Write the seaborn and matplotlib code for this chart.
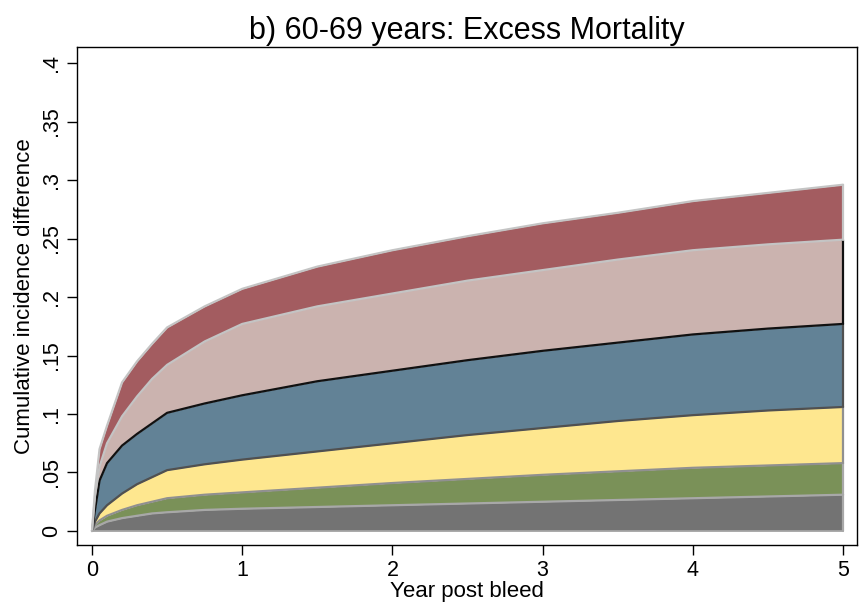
import numpy as np
import matplotlib
matplotlib.use("Agg")
import matplotlib.pyplot as plt
import seaborn as sns

# cumulative boundaries (top of each stacked band)
years = [0, 0.02, 0.05, 0.1, 0.2, 0.3, 0.4, 0.5, 0.75, 1, 1.5, 2, 2.5, 3, 3.5, 4, 4.5, 5]
top_gray = [0, 0.003, 0.005, 0.008, 0.011, 0.013, 0.015, 0.016, 0.018, 0.019, 0.0205, 0.022, 0.0235, 0.025, 0.0265, 0.028, 0.0295, 0.031]
top_green = [0, 0.005, 0.009, 0.013, 0.018, 0.022, 0.025, 0.028, 0.031, 0.033, 0.037, 0.041, 0.0445, 0.048, 0.051, 0.054, 0.056, 0.058]
top_yellow = [0, 0.008, 0.015, 0.022, 0.032, 0.040, 0.046, 0.052, 0.057, 0.061, 0.068, 0.075, 0.082, 0.088, 0.094, 0.099, 0.103, 0.106]
top_blue = [0, 0.018, 0.043, 0.058, 0.073, 0.083, 0.092, 0.101, 0.109, 0.116, 0.128, 0.137, 0.146, 0.154, 0.161, 0.168, 0.173, 0.177]
top_pink = [0, 0.030, 0.055, 0.075, 0.098, 0.115, 0.130, 0.142, 0.162, 0.177, 0.192, 0.203, 0.214, 0.223, 0.232, 0.240, 0.245, 0.249]
top_red = [0, 0.035, 0.070, 0.090, 0.127, 0.145, 0.160, 0.174, 0.192, 0.207, 0.226, 0.240, 0.252, 0.263, 0.272, 0.282, 0.289, 0.296]

bands = [top_gray, top_green, top_yellow, top_blue, top_pink, top_red]
fills = ["#737373", "#7a9158", "#fee78f", "#628296", "#cbb3af", "#a35c60"]
edges = ["#a8a8a8", "#909090", "#505050", "#111111", "#c4c4c4", "#c4c4c4"]
right_edges = ["#a8a8a8", "#a8a8a8", "#909090", "#505050", "#111111", "#c4c4c4"]

yticks = [0, 0.05, 0.1, 0.15, 0.2, 0.25, 0.3, 0.35, 0.4]
ytick_labels = ["0", ".05", ".1", ".15", ".2", ".25", ".3", ".35", ".4"]
xticks = [0, 1, 2, 3, 4, 5]

sns.set_style("white")
plt.rcParams['font.family'] = ['Liberation Sans', 'DejaVu Sans']
plt.rcParams['text.color'] = 'black'
plt.rcParams['axes.labelcolor'] = 'black'
plt.rcParams['xtick.color'] = 'black'
plt.rcParams['ytick.color'] = 'black'

fig = plt.figure(figsize=(8.67, 6.13), dpi=100)
ax = fig.add_axes([0.0888, 0.1109, 0.8997, 0.8124])

x = np.array(years)
lower = np.zeros_like(x)
for top, fc in zip(bands, fills):
    top = np.array(top)
    ax.fill_between(x, lower, top, color=fc, linewidth=0, zorder=2)
    lower = top

lower = np.zeros_like(x)
for top, ec, rc in zip(bands, edges, right_edges):
    top = np.array(top)
    sns.lineplot(x=x, y=top, color=ec, linewidth=1.6, ax=ax, zorder=3)
    ax.plot([x[-1], x[-1]], [lower[-1], top[-1]], color=rc, linewidth=1.6, zorder=3)
    lower = top
ax.plot([0, 5], [0, 0], color="#a8a8a8", linewidth=1.2, zorder=3)

ax.set_xlim(-0.1, 5.093)
ax.set_ylim(-0.012, 0.4137)
ax.set_xticks(xticks)
ax.set_xticklabels([str(t) for t in xticks])
ax.set_yticks(yticks)
ax.set_yticklabels(ytick_labels, rotation=90, va="center")
ax.tick_params(axis="both", direction="out", length=7, width=1,
               labelsize=15.5, pad=4, bottom=True, left=True)

for s in ax.spines.values():
    s.set_color("black")
    s.set_linewidth(1)

ax.set_xlabel("Year post bleed", fontsize=16, labelpad=0)
ax.set_ylabel("Cumulative incidence difference", fontsize=16, labelpad=4)
ax.set_title("b) 60-69 years: Excess Mortality", fontsize=22, pad=6)

fig.savefig("out.png", dpi=100)
